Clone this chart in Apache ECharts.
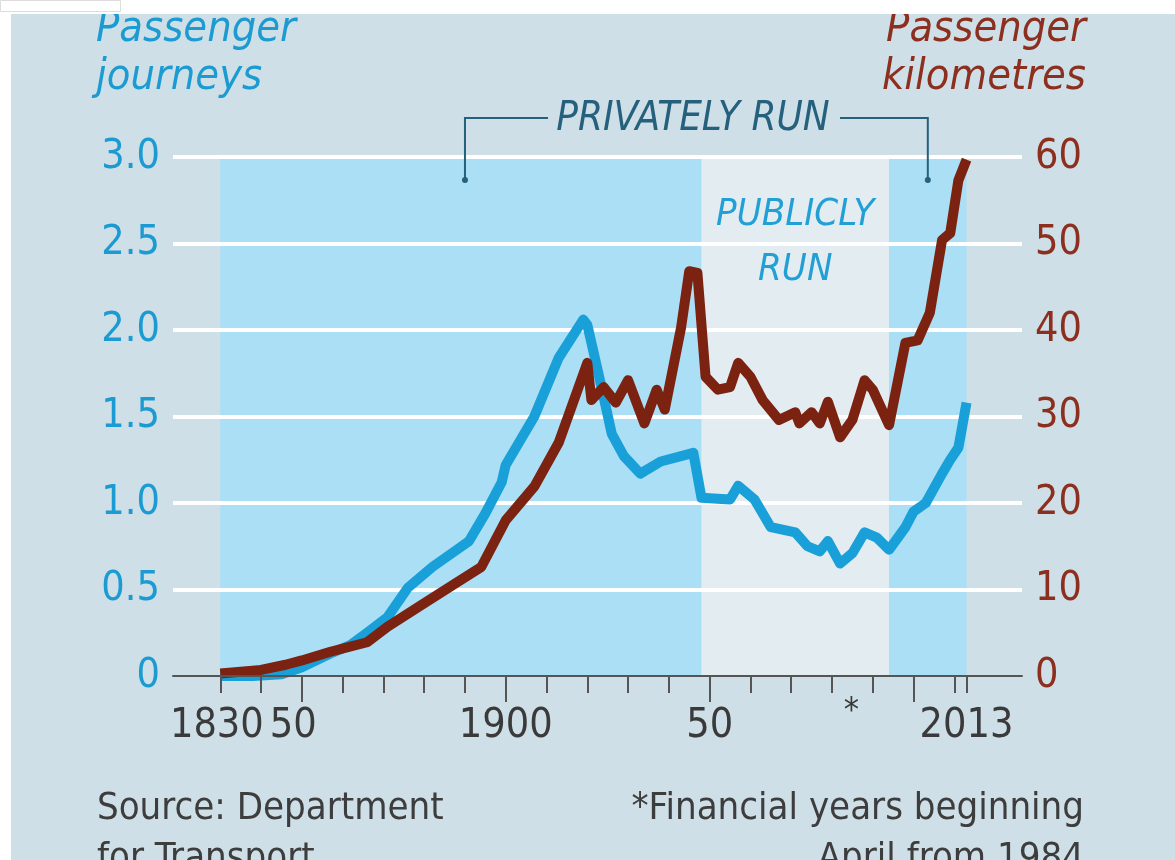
<!DOCTYPE html>
<html>
<head>
<meta charset="utf-8">
<title>Passenger journeys and kilometres</title>
<script src="https://cdn.jsdelivr.net/npm/echarts@6/dist/echarts.min.js"></script>
</head>
<body style="margin:0;background:#fff;">
<div id="main" style="width:1175px;height:860px;"></div>
<script>
// passenger journeys, billions (left axis)
var journeyYears = [1830, 1838, 1845, 1850, 1857, 1862, 1866, 1871, 1876, 1882, 1888, 1891, 1895, 1899, 1900, 1907, 1913, 1919, 1920, 1923, 1926, 1929, 1933, 1938, 1946, 1948, 1955, 1957, 1961, 1965, 1971, 1974, 1977, 1979, 1982, 1985, 1988, 1991, 1994, 1998, 2000, 2003, 2007, 2009, 2011, 2013];
var journeys = [0.00, 0.00, 0.01, 0.05, 0.13, 0.18, 0.25, 0.34, 0.51, 0.63, 0.73, 0.78, 0.94, 1.12, 1.22, 1.50, 1.84, 2.06, 2.03, 1.72, 1.40, 1.27, 1.17, 1.24, 1.29, 1.03, 1.02, 1.10, 1.02, 0.86, 0.83, 0.75, 0.72, 0.78, 0.65, 0.71, 0.83, 0.80, 0.73, 0.86, 0.95, 1.00, 1.17, 1.25, 1.32, 1.58];

// passenger kilometres, billions (right axis)
var kmYears = [1830, 1840, 1846, 1850, 1857, 1866, 1871, 1880, 1888, 1894, 1900, 1907, 1913, 1920, 1921, 1924, 1927, 1930, 1934, 1937, 1939, 1943, 1945, 1947, 1949, 1952, 1955, 1957, 1960, 1963, 1967, 1971, 1972, 1975, 1977, 1979, 1982, 1985, 1988, 1990, 1994, 1998, 2001, 2004, 2007, 2009, 2011, 2013];
var km = [0.3, 0.7, 1.3, 1.8, 2.8, 3.9, 5.7, 8.4, 10.8, 12.6, 18.0, 21.9, 27.0, 36.2, 31.9, 33.4, 31.6, 34.2, 29.2, 33.1, 30.8, 40.3, 46.8, 46.6, 34.6, 33.1, 33.4, 36.2, 34.6, 31.9, 29.6, 30.5, 29.2, 30.5, 29.2, 31.7, 27.6, 29.6, 34.2, 33.1, 29.0, 38.5, 38.8, 42.0, 50.4, 51.2, 57.3, 59.7];

// ownership periods
var periodStart = [1830, 1948, 1994];
var periodEnd = [1948, 1994, 2013];
var periodKind = ['private', 'public', 'private'];

// x axis ticks and labels (1830 and 1850 share one crowded label)
var minorTicks = [1830, 1840, 1850, 1860, 1870, 1880, 1890, 1900, 1910, 1920, 1930, 1940, 1950, 1960, 1970, 1980, 1990, 2000, 2010, 2013];
var majorTicks = [1850, 1900, 1950, 2000];
var labelYears = [1830, 1900, 1950, 2013];
var labelTexts = ['{a|1830}{b|50}', '1900', '50', '2013'];

var FONT = "'DejaVu Sans Condensed', 'Liberation Sans Narrow', 'DejaVu Sans', sans-serif";
var BLUE = '#1aa0d8', BROWN = '#7b2211';
var BLUE_TXT = '#1b9bd1', BROWN_TXT = '#8c2f1e';
var bandColor = { private: '#aadff5', public: '#e3ecf1' };

function pairs(xs, ys) {
  return xs.map(function (x, i) { return [x, ys[i]]; });
}

var chart = echarts.init(document.getElementById('main'));

var option = {
  backgroundColor: '#ffffff',
  animation: false,
  grid: { left: 173, right: 153, top: 157, bottom: 184 },
  xAxis: [
    {
      type: 'value', min: 1818.4, max: 2026.6, position: 'bottom', z: 3,
      splitLine: { show: false },
      axisLine: { show: true, lineStyle: { color: '#555', width: 2 } },
      axisTick: { show: true, customValues: minorTicks, length: 17, lineStyle: { color: '#555', width: 2 } },
      axisLabel: {
        customValues: labelYears, margin: 30, fontFamily: FONT, fontSize: 41, color: '#3a3a3a',
        showMinLabel: true, showMaxLabel: true,
        formatter: function (v) {
          var i = labelYears.indexOf(v);
          return i >= 0 ? labelTexts[i] : '';
        },
        rich: {
          a: { fontFamily: FONT, fontSize: 41, color: '#3a3a3a', padding: [0, 0, 0, 46] },
          b: { fontFamily: FONT, fontSize: 41, color: '#3a3a3a', padding: [0, 0, 0, 6] }
        }
      }
    },
    {
      type: 'value', min: 1818.4, max: 2026.6, position: 'bottom', z: 3,
      splitLine: { show: false },
      axisLine: { show: false },
      axisTick: { show: true, customValues: majorTicks, length: 26, lineStyle: { color: '#555', width: 2 } },
      axisLabel: { show: false }
    }
  ],
  yAxis: [
    {
      type: 'value', min: 0, max: 3, interval: 0.5, position: 'left', z: 1,
      axisLine: { show: false }, axisTick: { show: false },
      splitLine: { show: true, showMinLine: false, lineStyle: { color: '#ffffff', width: 4 } },
      axisLabel: {
        margin: 13, fontFamily: FONT, fontSize: 41, color: BLUE_TXT,
        formatter: function (v) { return v === 0 ? '0' : v.toFixed(1); }
      }
    },
    {
      type: 'value', min: 0, max: 60, interval: 10, position: 'right', z: 1,
      axisLine: { show: false }, axisTick: { show: false },
      splitLine: { show: false },
      axisLabel: { margin: 13, fontFamily: FONT, fontSize: 41, color: BROWN_TXT }
    }
  ],
  series: [
    {
      type: 'custom', z: 0, silent: true,
      data: periodStart.map(function (s, i) { return [s, periodEnd[i], i]; }),
      renderItem: function (params, api) {
        var p0 = api.coord([api.value(0), 3]);
        var p1 = api.coord([api.value(1), 0]);
        var kind = periodKind[api.value(2)];
        return {
          type: 'rect',
          shape: { x: p0[0], y: p0[1], width: p1[0] - p0[0], height: p1[1] - p0[1] },
          style: { fill: bandColor[kind] }
        };
      }
    },
    {
      name: 'Passenger journeys', type: 'line', yAxisIndex: 0, z: 2,
      data: pairs(journeyYears, journeys),
      symbol: 'none',
      lineStyle: { color: BLUE, width: 10, join: 'round' }
    },
    {
      name: 'Passenger kilometres', type: 'line', yAxisIndex: 1, z: 2,
      data: pairs(kmYears, km),
      symbol: 'none',
      lineStyle: { color: BROWN, width: 10, join: 'round' }
    }
  ]
};

chart.setOption(option);

// annotations, placed from the axes
function px(year, v) { return chart.convertToPixel({ xAxisIndex: 0, yAxisIndex: 0 }, [year, v]); }
var gTop = px(1900, 3)[1];
var bL = px(1890, 3)[0], bR = px(2003.5, 3)[0];
var bracketY = gTop - 39, dotY = gTop + 23;
var pubX = (px(1948, 0)[0] + px(1994, 0)[0]) / 2;
var starX = px(1984, 0)[0];
var axisY = px(1900, 0)[1];
var teal = '#25607c';

chart.setOption({
  graphic: [
    { type: 'rect', z: -10, shape: { x: 11, y: 14, width: 1164, height: 846 }, style: { fill: '#cedfe8' } },
    { type: 'text', z: 10, style: { text: 'Passenger\njourneys', x: 96, y: 6, font: 'italic 43px ' + FONT, fill: BLUE_TXT, lineHeight: 48, textAlign: 'left', textVerticalAlign: 'top' } },
    { type: 'text', z: 10, style: { text: 'Passenger\nkilometres', x: 1086, y: 6, font: 'italic 43px ' + FONT, fill: BROWN_TXT, lineHeight: 48, textAlign: 'right', textVerticalAlign: 'top' } },
    { type: 'rect', z: 11, shape: { x: 0, y: 0, width: 1175, height: 14 }, style: { fill: '#fff' } },
    { type: 'rect', z: 12, shape: { x: 0.5, y: 0.5, width: 120, height: 11 }, style: { fill: '#fff', stroke: '#dddddd', lineWidth: 1 } },
    { type: 'polyline', z: 10, shape: { points: [[bL, dotY], [bL, bracketY], [548, bracketY]] }, style: { stroke: teal, lineWidth: 2, fill: null } },
    { type: 'polyline', z: 10, shape: { points: [[840, bracketY], [bR, bracketY], [bR, dotY]] }, style: { stroke: teal, lineWidth: 2, fill: null } },
    { type: 'circle', z: 10, shape: { cx: bL, cy: dotY, r: 3 }, style: { fill: teal } },
    { type: 'circle', z: 10, shape: { cx: bR, cy: dotY, r: 3 }, style: { fill: teal } },
    { type: 'text', z: 10, style: { text: 'PRIVATELY RUN', x: 693, y: bracketY + 2, font: 'italic 500 40px ' + FONT, fill: teal, textAlign: 'center', textVerticalAlign: 'middle' } },
    { type: 'text', z: 10, style: { text: 'PUBLICLY\nRUN', x: pubX, y: 243, font: 'italic 38px ' + FONT, fill: '#22a0d6', lineHeight: 55, textAlign: 'center', textVerticalAlign: 'middle' } },
    { type: 'text', z: 10, style: { text: '*', x: starX + 3, y: axisY + 36, font: '34px ' + FONT, fill: '#3a3a3a', textAlign: 'center', textVerticalAlign: 'middle' } },
    { type: 'text', z: 10, style: { text: 'Source: Department\nfor Transport', x: 97, y: 784, font: '38px ' + FONT, fill: '#3d3d3d', lineHeight: 50, textAlign: 'left', textVerticalAlign: 'top' } },
    { type: 'text', z: 10, style: { text: '*Financial years beginning\nApril from 1984', x: 1084, y: 784, font: '38px ' + FONT, fill: '#3d3d3d', lineHeight: 50, textAlign: 'right', textVerticalAlign: 'top' } }
  ]
});
</script>
</body>
</html>
